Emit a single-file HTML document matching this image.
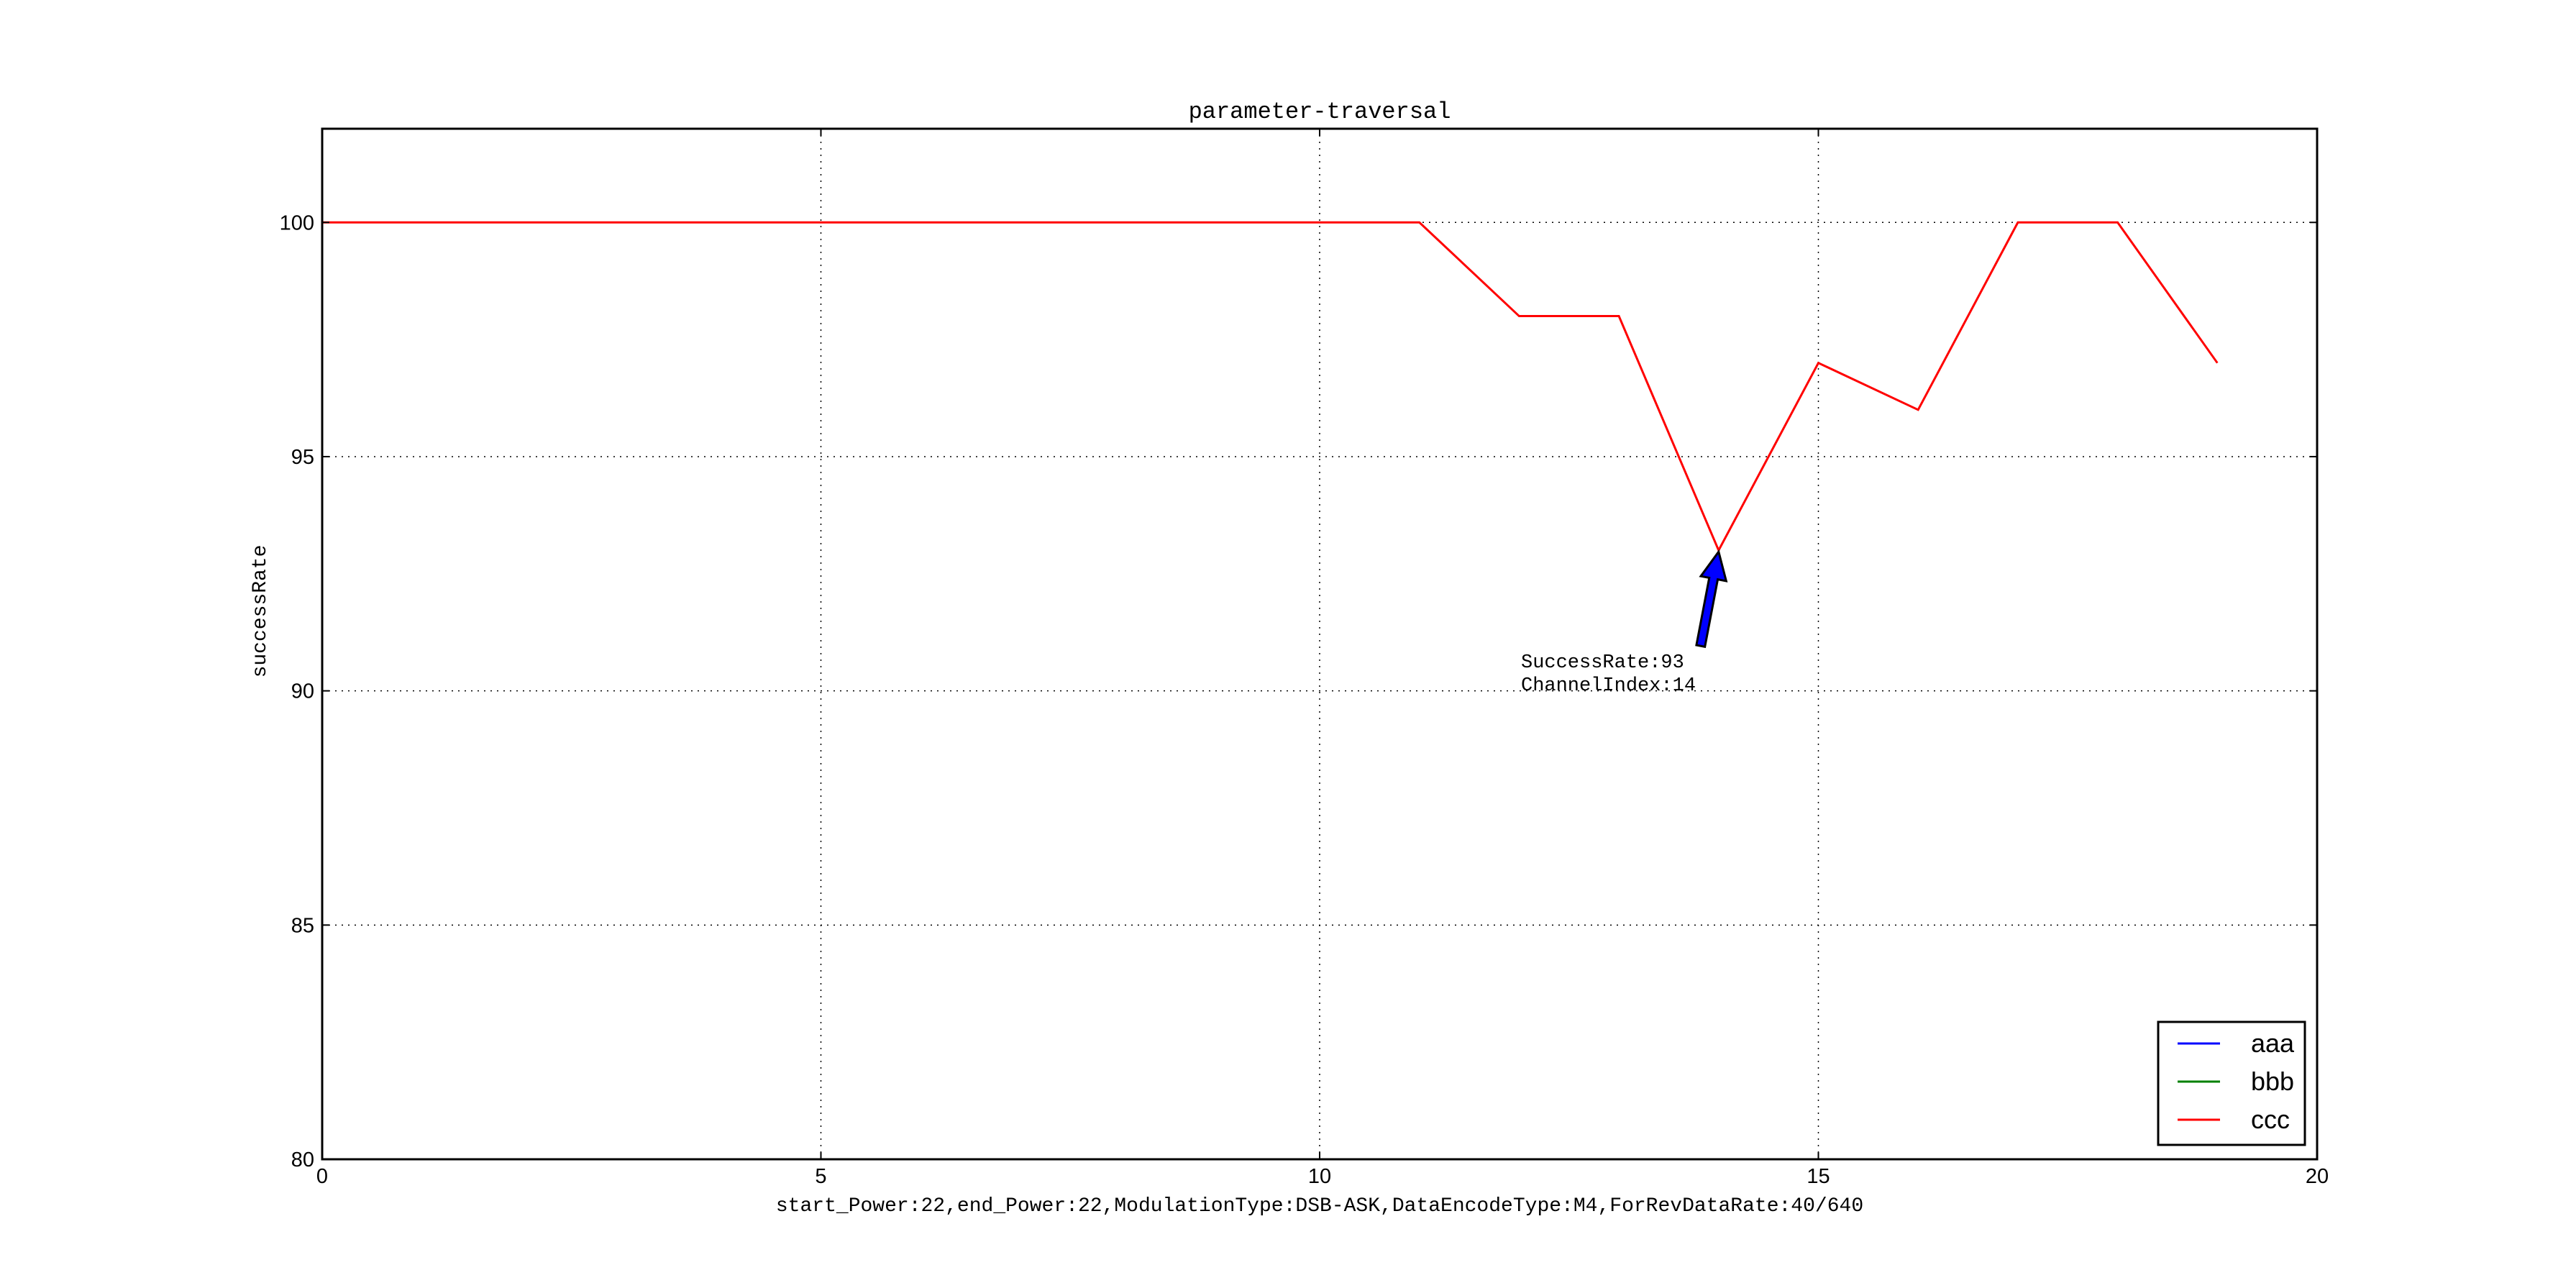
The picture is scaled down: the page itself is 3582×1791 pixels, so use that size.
<!DOCTYPE html>
<html><head><meta charset="utf-8"><style>
html,body{margin:0;padding:0;background:#fff;}
svg{display:block;}
text{font-family:"Liberation Mono","Noto Sans CJK SC",monospace;fill:#000;}
.tick{font-family:"Liberation Sans","Noto Sans CJK SC",sans-serif;font-size:29px;}
</style></head><body>
<svg id="chart" width="3582" height="1791" viewBox="0 0 3582 1791" xmlns="http://www.w3.org/2000/svg">
<rect width="3582" height="1791" fill="#fff"/>
<g id="grid"></g>
<g id="series"></g>
<rect x="448" y="179" width="2774" height="1433" fill="none" stroke="#000" stroke-width="3"/>
<g id="ticks"></g>
<text x="1835" y="164" font-size="32" text-anchor="middle">parameter-traversal</text>
<text x="1835" y="1684" font-size="28" text-anchor="middle">start_Power:22,end_Power:22,ModulationType:DSB-ASK,DataEncodeType:M4,ForRevDataRate:40/640</text>
<text x="0" y="0" font-size="28" text-anchor="middle" transform="translate(369,850) rotate(-90)">successRate</text>
<g id="annot"></g>
<g>
<rect x="3001" y="1421" width="204" height="171" fill="#fff" stroke="#000" stroke-width="3"/>
<line x1="3028" y1="1451" x2="3087" y2="1451" stroke="#0000ff" stroke-width="3"/>
<text x="3130" y="1463" class="tick" font-size="36" style="font-size:36px">aaa</text>
<line x1="3028" y1="1504" x2="3087" y2="1504" stroke="#008000" stroke-width="3"/>
<text x="3130" y="1516" class="tick" style="font-size:36px">bbb</text>
<line x1="3028" y1="1557" x2="3087" y2="1557" stroke="#ff0000" stroke-width="3"/>
<text x="3130" y="1569" class="tick" style="font-size:36px">ccc</text>
</g>
</svg>
<script>
const xValues=[0,1,2,3,4,5,6,7,8,9,10,11,12,13,14,15,16,17,18,19];
const cccValues=[100,100,100,100,100,100,100,100,100,100,100,100,98,98,93,97,96,100,100,97];
const xTicks=[0,5,10,15,20];
const yTicks=[80,85,90,95,100];
const annotX=14, annotY=93;
const NS="http://www.w3.org/2000/svg";
const X0=448,X1=3222,Y0=1612,Y1=179,XMIN=0,XMAX=20,YMIN=80,YMAX=102;
function sx(v){return X0+(v-XMIN)/(XMAX-XMIN)*(X1-X0);}
function sy(v){return Y0-(v-YMIN)/(YMAX-YMIN)*(Y0-Y1);}
function mk(tag,attrs,parent){const e=document.createElementNS(NS,tag);for(const k in attrs)e.setAttribute(k,attrs[k]);parent.appendChild(e);return e;}
const grid=document.getElementById('grid'),ticks=document.getElementById('ticks'),series=document.getElementById('series'),annot=document.getElementById('annot');
xTicks.forEach(t=>{
  const x=sx(t);
  if(t>XMIN&&t<XMAX){const g=mk('line',{x1:x,y1:Y1,x2:x,y2:Y0,stroke:'#000','stroke-width':1.5,'stroke-dasharray':'2 7'},grid);
  
  }
  const a=mk('line',{x1:x,y1:Y0,x2:x,y2:Y0-10,stroke:'#000','stroke-width':2},ticks);
  
  
  const b=mk('line',{x1:x,y1:Y1,x2:x,y2:Y1+10,stroke:'#000','stroke-width':2},ticks);
  
  
  const l=mk('text',{x:x,y:1645,'text-anchor':'middle','class':'tick'},ticks);l.textContent=t;
  
  
});
yTicks.forEach(t=>{
  const y=sy(t);
  if(t>YMIN){const g=mk('line',{x1:X0,y1:y,x2:X1,y2:y,stroke:'#000','stroke-width':1.5,'stroke-dasharray':'2 7'},grid);
  
  }
  const a=mk('line',{x1:X0,y1:y,x2:X0+10,y2:y,stroke:'#000','stroke-width':2},ticks);
  
  
  const b=mk('line',{x1:X1,y1:y,x2:X1-10,y2:y,stroke:'#000','stroke-width':2},ticks);
  
  
  const l=mk('text',{x:437,y:y+10,'text-anchor':'end','class':'tick'},ticks);l.textContent=t;
  
  
});
const pts=xValues.map((x,i)=>sx(x)+','+sy(cccValues[i])).join(' ');
const line=mk('polyline',{points:pts,fill:'none',stroke:'#ff0000','stroke-width':3,'stroke-linejoin':'miter'},series);


// arrow
const tx=sx(annotX),ty=sy(annotY)+2;
const bx=tx-25,by=ty+131;
const dx=tx-bx,dy=ty-by,L=Math.hypot(dx,dy),ux=dx/L,uy=dy/L,px=-uy,py=ux;
const hw=6,HW=18,HL=38;
const hx=tx-ux*HL,hy=ty-uy*HL;
const P=[[bx+px*hw,by+py*hw],[hx+px*hw,hy+py*hw],[hx+px*HW,hy+py*HW],[tx,ty],[hx-px*HW,hy-py*HW],[hx-px*hw,hy-py*hw],[bx-px*hw,by-py*hw]];
const arrow=mk('polygon',{points:P.map(p=>p.join(',')).join(' '),fill:'#0000ff',stroke:'#000','stroke-width':3,'stroke-linejoin':'miter'},annot);


const t1=mk('text',{x:2115,y:928,'font-size':27},annot);t1.textContent='SuccessRate:'+annotY;


const t2=mk('text',{x:2115,y:960,'font-size':27},annot);t2.textContent='ChannelIndex:'+annotX;


</script>
</body></html>
